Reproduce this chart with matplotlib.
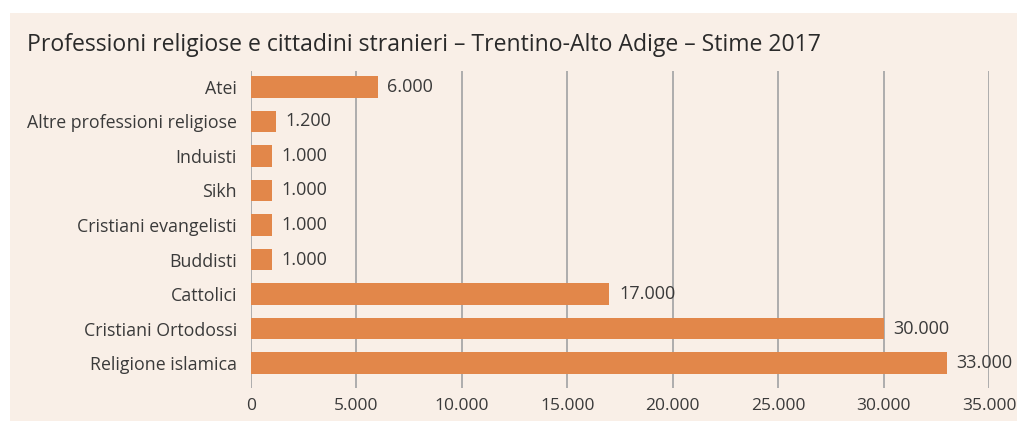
import matplotlib.pyplot as plt
from matplotlib.patches import Rectangle

categorie = ['Atei', 'Altre professioni religiose', 'Induisti', 'Sikh',
             'Cristiani evangelisti', 'Buddisti', 'Cattolici',
             'Cristiani Ortodossi', 'Religione islamica']
valori = [6000, 1200, 1000, 1000, 1000, 1000, 17000, 30000, 33000]
tick_x = [0, 5000, 10000, 15000, 20000, 25000, 30000, 35000]


def fmt(v):
    return f'{v:,}'.replace(',', '.')


plt.rcParams['font.family'] = ['Open Sans', 'DejaVu Sans']

W, H = 1017, 421
fig = plt.figure(figsize=(W / 100, H / 100), dpi=100, facecolor='white')

# sfondo del riquadro
fig.patches.append(Rectangle((10 / W, 0), 1 - 10 / W, 1 - 13 / H,
                             transform=fig.transFigure, facecolor='#F9EFE7',
                             edgecolor='none', zorder=-5))

ax = fig.add_axes([251 / W, 1 - 388 / H, (989 - 251) / W, (388 - 71) / H])
ax.set_facecolor('none')

y = list(range(len(categorie)))
ax.barh(y, valori, height=0.62, color='#E2874A', zorder=2)
for yi, v in zip(y, valori):
    ax.text(v + 450, yi, fmt(v), va='center', ha='left', fontsize=13,
            color='#3a3a3a', zorder=3)

ax.set_xlim(0, 35000)
ax.set_ylim(8.72, -0.46)
ax.set_xticks(tick_x)
ax.set_xticklabels([fmt(t) for t in tick_x], fontsize=12.5, color='#3a3a3a')
ax.set_yticks(y)
ax.set_yticklabels(categorie, fontsize=12.8, color='#3a3a3a')
ax.tick_params(length=0, pad=10)
ax.tick_params(axis='x', pad=7)
for t in tick_x:
    ax.axvline(t, color='#A8A8A8', lw=1.3, zorder=1)
for s in ax.spines.values():
    s.set_visible(False)

fig.text(27 / W, 1 - 45 / H, 'Professioni religiose e cittadini stranieri – '
         'Trentino-Alto Adige – Stime 2017', fontsize=16.6, color='#2a2a2a',
         va='center', ha='left')

fig.savefig('out.png', dpi=100, facecolor='white')
